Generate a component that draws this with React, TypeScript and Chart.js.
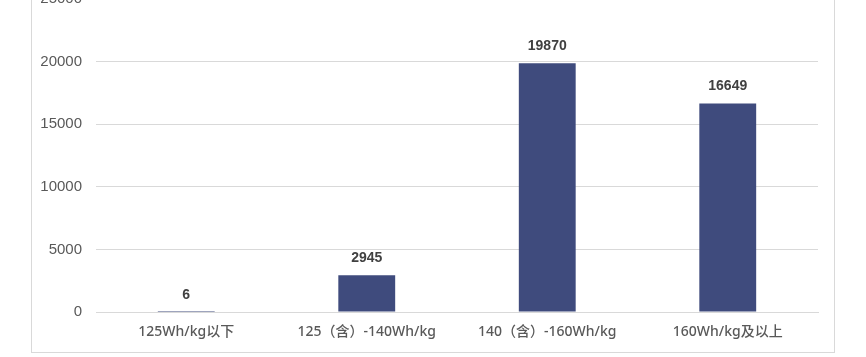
import React, { useEffect, useRef } from "react";
import { Chart, registerables } from "chart.js";

Chart.register(...registerables);

const categories = ["125Wh/kg以下", "125（含）-140Wh/kg", "140（含）-160Wh/kg", "160Wh/kg及以上"];
const values = [6, 2945, 19870, 16649];
const yTicks = [0, 5000, 10000, 15000, 20000, 25000];

const barLabels = {
  id: "barLabels",
  afterDatasetsDraw(chart: any) {
    const ctx = chart.ctx;
    const meta = chart.getDatasetMeta(0);
    ctx.save();
    ctx.font = "bold 14px 'Liberation Sans', Arial, sans-serif";
    ctx.fillStyle = "#404040";
    ctx.textAlign = "center";
    ctx.textBaseline = "middle";
    meta.data.forEach((bar: any, i: number) => {
      ctx.fillText(String(values[i]), bar.x, bar.y - 17);
    });
    ctx.restore();
  },
};

export default function App() {
  const ref = useRef<HTMLCanvasElement>(null);
  useEffect(() => {
    if (!ref.current) return;
    const chart = new Chart(ref.current, {
      type: "bar",
      data: {
        labels: categories,
        datasets: [
          {
            data: values,
            backgroundColor: "#3F4B7D",
            barPercentage: 0.63,
            categoryPercentage: 0.5,
          },
        ],
      },
      options: {
        animation: false,
        responsive: false,
        maintainAspectRatio: false,
        layout: { padding: { left: 0, right: 16, top: 38, bottom: 12 } },
        plugins: { legend: { display: false }, tooltip: { enabled: false } },
        scales: {
          x: {
            grid: { display: false, drawTicks: false },
            border: { display: true, color: "#d9d9d9" },
            ticks: {
              padding: 12,
              color: "#595959",
              font: { size: 14, weight: "500", family: "'Noto Sans', 'Noto Sans CJK SC', sans-serif" },
              maxRotation: 0,
              autoSkip: false,
            },
            afterFit(scale: any) {
              scale.height = 28;
            },
          },
          y: {
            min: 0,
            max: 25000,
            afterBuildTicks(scale: any) {
              scale.ticks = yTicks.map((v) => ({ value: v }));
            },
            grid: { color: "#d9d9d9", drawTicks: false },
            border: { display: false },
            ticks: {
              padding: 14,
              color: "#595959",
              font: { size: 15, family: "'Liberation Sans', Arial, sans-serif" },
              callback: (v: any) => String(v),
            },
            afterFit(scale: any) {
              scale.width = 64;
            },
          },
        },
      },
      plugins: [barLabels],
    });
    return () => chart.destroy();
  }, []);
  return (
    <div
      style={{
        position: "absolute",
        left: 31,
        top: -40,
        width: 802,
        height: 391,
        border: "1px solid #d9d9d9",
        background: "#fff",
      }}
    >
      <canvas ref={ref} width={802} height={391} style={{ display: "block" }} />
    </div>
  );
}
